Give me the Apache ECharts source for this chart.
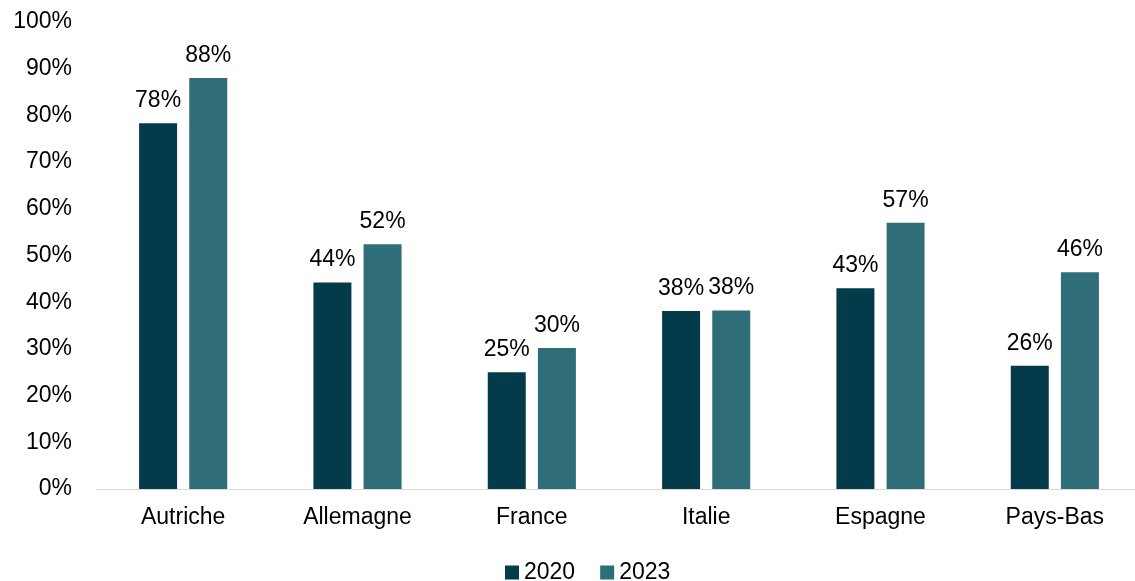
<!DOCTYPE html>
<html>
<head>
<meta charset="utf-8">
<script src="https://cdn.jsdelivr.net/npm/echarts@6/dist/echarts.min.js"></script>
<style>
html,body{margin:0;padding:0;background:#fff;overflow:hidden;}
#chart{width:1142px;height:581px;}
</style>
</head>
<body>
<div id="chart"></div>
<script>
const categories = ['Autriche', 'Allemagne', 'France', 'Italie', 'Espagne', 'Pays-Bas'];
const values2020 = [78.3, 44.2, 25, 38.1, 43, 26.4];
const values2023 = [88, 52.4, 30.2, 38.2, 57, 46.4];
const seriesNames = ['2020', '2023'];
const colors = ['#043B4A', '#2F6E78'];

const font = 'Liberation Sans, Arial, sans-serif';
const fs = 23;
const chart = echarts.init(document.getElementById('chart'));
const labelCfg = {
  show: true, position: 'top', distance: 11,
  color: '#000', fontSize: fs, fontFamily: font,
  formatter: p => Math.round(p.value) + '%'
};
chart.setOption({
  animation: false,
  color: colors,
  grid: {left: 96, right: 0, top: 22, bottom: 92},
  legend: {
    left: 500, top: 556,
    itemWidth: 14, itemHeight: 14, itemGap: 25,
    icon: 'rect',
    textStyle: {fontSize: fs, fontFamily: font, color: '#000'},
    data: seriesNames
  },
  xAxis: {
    type: 'category', data: categories,
    axisLine: {lineStyle: {color: '#d9d9d9', width: 1}},
    axisTick: {show: false},
    axisLabel: {color: '#000', fontSize: fs, fontFamily: font, margin: 17}
  },
  yAxis: {
    type: 'value', min: 0, max: 100, interval: 10,
    axisLine: {show: false}, axisTick: {show: false},
    splitLine: {show: false},
    axisLabel: {color: '#000', fontSize: fs, fontFamily: font, margin: 24, formatter: '{value}%'}
  },
  series: [
    {name: seriesNames[0], type: 'bar', data: values2020, barWidth: 38, barGap: '32%', label: labelCfg,
     itemStyle: {color: colors[0]}},
    {name: seriesNames[1], type: 'bar', data: values2023, barWidth: 38, label: labelCfg,
     itemStyle: {color: colors[1]}}
  ]
});
</script>
</body>
</html>
